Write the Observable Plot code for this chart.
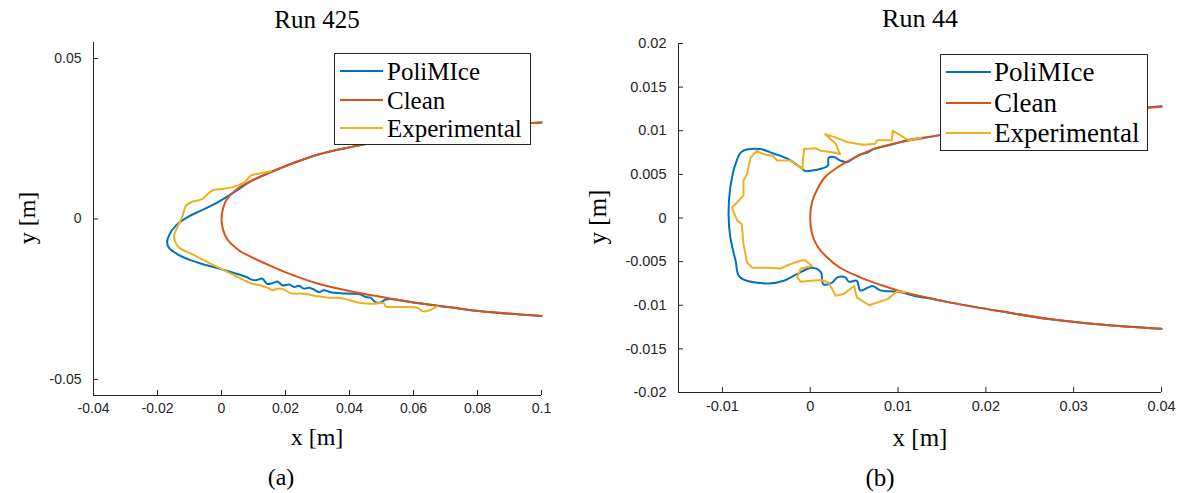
<!DOCTYPE html>
<html><head><meta charset="utf-8">
<script src="https://cdn.jsdelivr.net/npm/d3@7"></script>
<script src="https://cdn.jsdelivr.net/npm/@observablehq/plot@0.6"></script>
<style>
body{margin:0;background:#fff;}
#fig{position:relative;width:1183px;height:493px;overflow:hidden;background:#fff;}
.panel{position:absolute;top:0;}
.lbl{position:absolute;font-family:"Liberation Serif","Times New Roman",serif;color:#000;white-space:nowrap;line-height:1;transform:translate(-50%,-50%);}
.rot{transform:translate(-50%,-50%) rotate(-90deg);}
.legend{position:absolute;background:#fff;border:1px solid #262626;box-sizing:border-box;}
.legend .sw{position:absolute;height:2px;}
.legend .tx{position:absolute;font-family:"Liberation Serif","Times New Roman",serif;color:#000;white-space:nowrap;line-height:1;transform:translateY(-50%);}
</style></head>
<body>
<div id="fig"></div>
<script>
// ---------- data ----------
const seriesNames = ["PoliMIce", "Clean", "Experimental"];

// Panel (a): Run 425
const cleanA_x = [0.1, 0.0818, 0.0714, 0.0611, 0.0506, 0.0403, 0.030, 0.0195, 0.0135, 0.0092, 0.0055, 0.0016, 0.0004, 0, 0.0004, 0.0016, 0.0055, 0.0092, 0.0135, 0.0195, 0.030, 0.0403, 0.0506, 0.0611, 0.0714, 0.0818, 0.1];
const cleanA_y = [0.0301, 0.0288, 0.0275, 0.0261, 0.0244, 0.0224, 0.0200, 0.0163, 0.0138, 0.0118, 0.0098, 0.0060, 0.0030, 0, -0.0030, -0.0060, -0.0098, -0.0118, -0.0138, -0.0164, -0.0201, -0.0225, -0.0244, -0.0262, -0.0275, -0.0288, -0.0302];

const polA_x = [0.1, 0.0818, 0.0714, 0.0611, 0.0506, 0.0403, 0.030, 0.0195, 0.0135, 0.0092, 0.0039, -0.0012, -0.0064, -0.0106, -0.0142, -0.0164, -0.0170, -0.0164, -0.0137, -0.0095, -0.0043, 0.0019, 0.0076, 0.0092, 0.0107, 0.0128, 0.0142, 0.0159, 0.0175, 0.0191, 0.0211, 0.0227, 0.0242, 0.0258, 0.0274, 0.0289, 0.0305, 0.0320, 0.0341, 0.0372, 0.0404, 0.0435, 0.0450, 0.0466, 0.0481, 0.0497, 0.0513, 0.0528, 0.0611, 0.0714, 0.0818, 0.1];
const polA_y = [0.0301, 0.0288, 0.0275, 0.0261, 0.0244, 0.0224, 0.0200, 0.0163, 0.0138, 0.0118, 0.0083, 0.0052, 0.0026, 0.0006, -0.0020, -0.0051, -0.0072, -0.0090, -0.0110, -0.0129, -0.0145, -0.0162, -0.0180, -0.0188, -0.0191, -0.0186, -0.0202, -0.0200, -0.0195, -0.0207, -0.0204, -0.0212, -0.0208, -0.0217, -0.0214, -0.0220, -0.0228, -0.0222, -0.0228, -0.0231, -0.0233, -0.0235, -0.0243, -0.0245, -0.0259, -0.0260, -0.0251, -0.0249, -0.0262, -0.0275, -0.0288, -0.0302];

const expA_x = [0.0154, 0.0118, 0.0092, 0.0071, 0.0050, 0.0008, -0.0023, -0.0043, -0.0059, -0.0095, -0.0111, -0.0121, -0.0135, -0.0148, -0.0142, -0.0127, -0.0095, -0.0054, -0.0012, 0.0029, 0.0071, 0.0092, 0.0123, 0.0144, 0.0159, 0.0175, 0.0196, 0.0216, 0.0258, 0.0300, 0.0331, 0.0372, 0.0404, 0.0435, 0.0476, 0.0507, 0.0513, 0.0559, 0.0612, 0.0627, 0.0643, 0.0658, 0.0674];
const expA_y = [0.0149, 0.0142, 0.0135, 0.0114, 0.0104, 0.0094, 0.0091, 0.0078, 0.0063, 0.0052, 0.0042, 0.0011, -0.0020, -0.0051, -0.0077, -0.0093, -0.0108, -0.0129, -0.0150, -0.0170, -0.0191, -0.0200, -0.0207, -0.0214, -0.0222, -0.0217, -0.0220, -0.0231, -0.0233, -0.0241, -0.0245, -0.0246, -0.0254, -0.0262, -0.0264, -0.0262, -0.0272, -0.0274, -0.0277, -0.0287, -0.0287, -0.0281, -0.0272];

const xTicksA = [-0.04, -0.02, 0, 0.02, 0.04, 0.06, 0.08, 0.1];
const yTicksA = [-0.05, 0, 0.05];

// Panel (b): Run 44
const cleanB_x = [0.04, 0.0331, 0.0274, 0.0217, 0.0148, 0.0103, 0.0072, 0.0050, 0.0031, 0.0017, 0.0008, 0.0002, 0, 0.0002, 0.0008, 0.0019, 0.0034, 0.0057, 0.0084, 0.0110, 0.0141, 0.0160, 0.0217, 0.0274, 0.0331, 0.04];
const cleanB_y = [0.01275, 0.0122, 0.0116, 0.0108, 0.0095, 0.0087, 0.0079, 0.0069, 0.0058, 0.0047, 0.0033, 0.0018, 0, -0.0018, -0.0032, -0.0045, -0.0057, -0.0068, -0.0078, -0.0086, -0.0093, -0.0097, -0.0107, -0.0116, -0.0122, -0.0127];

const polB_x = [0.04, 0.0331, 0.0274, 0.0217, 0.0148, 0.0110, 0.0103, 0.0088, 0.0072, 0.0065, 0.0057, 0.0050, 0.0042, 0.0034, 0.0027, 0.0021, 0.0020, 0.0006, -0.0006, -0.0011, -0.0026, -0.0042, -0.0057, -0.0078, -0.0085, -0.0091, -0.0093, -0.0091, -0.0085, -0.0080, -0.0049, -0.0030, -0.0011, 0.0002, 0.0012, 0.0015, 0.0025, 0.0031, 0.0040, 0.0044, 0.0053, 0.0057, 0.0065, 0.0071, 0.0080, 0.0091, 0.0103, 0.0118, 0.0141, 0.0160, 0.0217, 0.0274, 0.0331, 0.04];
const polB_y = [0.0128, 0.0122, 0.0116, 0.0108, 0.0095, 0.0089, 0.0087, 0.0083, 0.0079, 0.0075, 0.0073, 0.0069, 0.0064, 0.0066, 0.0070, 0.0069, 0.0060, 0.0055, 0.0054, 0.0058, 0.0068, 0.0074, 0.0079, 0.0076, 0.0062, 0.0035, 0.0005, -0.0022, -0.0049, -0.0068, -0.0075, -0.0072, -0.0062, -0.0057, -0.0062, -0.0076, -0.0074, -0.0068, -0.0068, -0.0073, -0.0072, -0.0083, -0.0080, -0.0078, -0.0083, -0.0084, -0.0085, -0.0089, -0.0093, -0.0097, -0.0107, -0.0116, -0.0122, -0.0127];

const expB_x = [0.0126, 0.0112, 0.0107, 0.0094, 0.0093, 0.0076, 0.0074, 0.0061, 0.0053, 0.0042, 0.0027, 0.0017, 0.0029, 0.0034, 0.0027, 0.0012, 0.0006, -0.0007, -0.0008, -0.0009, -0.0023, -0.0038, -0.0042, -0.0053, -0.0061, -0.0068, -0.0072, -0.0076, -0.0076, -0.0083, -0.0089, -0.0087, -0.0083, -0.0078, -0.0076, -0.0072, -0.0066, -0.0049, -0.0034, -0.0023, -0.0011, -0.0006, 0.0002, -0.0011, -0.0015, -0.0011, 0, 0.0012, 0.0021, 0.0029, 0.0038, 0.0050, 0.0053, 0.0067, 0.0088, 0.0099, 0.0108];
const expB_y = [0.0092, 0.0089, 0.0092, 0.0100, 0.0089, 0.0089, 0.0085, 0.0084, 0.0085, 0.0087, 0.0093, 0.0096, 0.0085, 0.0073, 0.0075, 0.0077, 0.0080, 0.0079, 0.0069, 0.0056, 0.0066, 0.0066, 0.0071, 0.0073, 0.0077, 0.0069, 0.0050, 0.0043, 0.0026, 0.0018, 0.0012, 0.0006, -0.0003, -0.0007, -0.0030, -0.0051, -0.0057, -0.0057, -0.0058, -0.0053, -0.0049, -0.0048, -0.0055, -0.0058, -0.0068, -0.0073, -0.0072, -0.0071, -0.0074, -0.0089, -0.0087, -0.0078, -0.0091, -0.0100, -0.0093, -0.0084, -0.0085];

const xTicksB = [-0.01, 0, 0.01, 0.02, 0.03, 0.04];
const yTicksB = [-0.02, -0.015, -0.01, -0.005, 0, 0.005, 0.01, 0.015, 0.02];

// ---------- drawing ----------
const colors = {PoliMIce: "#0072BD", Clean: "#D95319", Experimental: "#EDB120"};
const fmt = d => String(Math.round(d * 1000) / 1000);
const pts = (xs, ys) => xs.map((x, i) => ({x, y: ys[i]}));

function panel(cfg) {
  const svg = Plot.plot({
    width: cfg.w, height: 493,
    marginLeft: cfg.ml, marginRight: cfg.mr, marginTop: cfg.mt, marginBottom: cfg.mb,
    x: {domain: cfg.xd}, y: {domain: cfg.yd},
    style: {fontFamily: "'Liberation Sans', Arial, sans-serif", color: "#262626", background: "transparent", overflow: "visible"},
    marks: [
      Plot.line(pts(cfg.pol[0], cfg.pol[1]), {x: "x", y: "y", stroke: colors.PoliMIce, strokeWidth: 2, curve: "catmull-rom"}),
      Plot.line(pts(cfg.clean[0], cfg.clean[1]), {x: "x", y: "y", stroke: colors.Clean, strokeWidth: 2, curve: "catmull-rom"}),
      Plot.line(pts(cfg.exp[0], cfg.exp[1]), {x: "x", y: "y", stroke: colors.Experimental, strokeWidth: 2, curve: cfg.expCurve}),
      Plot.ruleX([cfg.xd[0]], {stroke: "#262626", strokeWidth: 1}),
      Plot.ruleY([cfg.yd[0]], {stroke: "#262626", strokeWidth: 1}),
      Plot.axisX({ticks: cfg.xt, tickFormat: fmt, tickSize: -5, tickPadding: 13, label: null, fontSize: cfg.tickFs, fontFamily: "'Liberation Sans', Arial, sans-serif"}),
      Plot.axisY({ticks: cfg.yt, tickFormat: fmt, tickSize: -5, tickPadding: 17, label: null, fontSize: cfg.tickFs, fontFamily: "'Liberation Sans', Arial, sans-serif"})
    ]
  });
  svg.classList.add("panel");
  svg.style.left = cfg.left + "px";
  return svg;
}

const fig = document.getElementById("fig");
fig.appendChild(panel({left: 0, w: 590, ml: 93, mr: 49, mt: 42, mb: 98, xd: [-0.04, 0.1], yd: [-0.055, 0.055],
  xt: xTicksA, yt: yTicksA, tickFs: 14, pol: [polA_x, polA_y], clean: [cleanA_x, cleanA_y], exp: [expA_x, expA_y], expCurve: "catmull-rom"}));
fig.appendChild(panel({left: 590, w: 593, ml: 88, mr: 22, mt: 43, mb: 101, xd: [-0.015, 0.04], yd: [-0.02, 0.02],
  xt: xTicksB, yt: yTicksB, tickFs: 14.5, pol: [polB_x, polB_y], clean: [cleanB_x, cleanB_y], exp: [expB_x, expB_y], expCurve: "linear"}));

function label(text, x, y, fs, rot) {
  const d = document.createElement("div");
  d.className = "lbl" + (rot ? " rot" : "");
  d.textContent = text;
  d.style.left = x + "px"; d.style.top = y + "px"; d.style.fontSize = fs + "px";
  fig.appendChild(d);
}
label("Run 425", 317, 19, 25);
label("Run 44", 920, 19, 26);
label("x [m]", 317, 437, 24);
label("x [m]", 920, 437, 25);
label("y [m]", 27, 218, 24, true);
label("y [m]", 597, 217, 25, true);
label("(a)", 281, 477, 24);
label("(b)", 880, 477, 25);

function legend(left, top, w, h, rows, sw0, sw1, tx, fs) {
  const box = document.createElement("div");
  box.className = "legend";
  Object.assign(box.style, {left: left + "px", top: top + "px", width: w + "px", height: h + "px"});
  seriesNames.forEach((name, i) => {
    const s = document.createElement("div");
    s.className = "sw";
    Object.assign(s.style, {left: sw0 + "px", width: (sw1 - sw0) + "px", top: (rows[i] - 1) + "px", background: colors[name]});
    box.appendChild(s);
    const t = document.createElement("div");
    t.className = "tx";
    t.textContent = name;
    Object.assign(t.style, {left: tx + "px", top: rows[i] + "px", fontSize: fs + "px"});
    box.appendChild(t);
  });
  fig.appendChild(box);
}
legend(334, 53, 197, 92, [17, 46, 74], 5, 48, 52, 25);
legend(940, 54, 208, 97, [17, 48, 78], 5, 50, 53, 27);
</script>
</body></html>
